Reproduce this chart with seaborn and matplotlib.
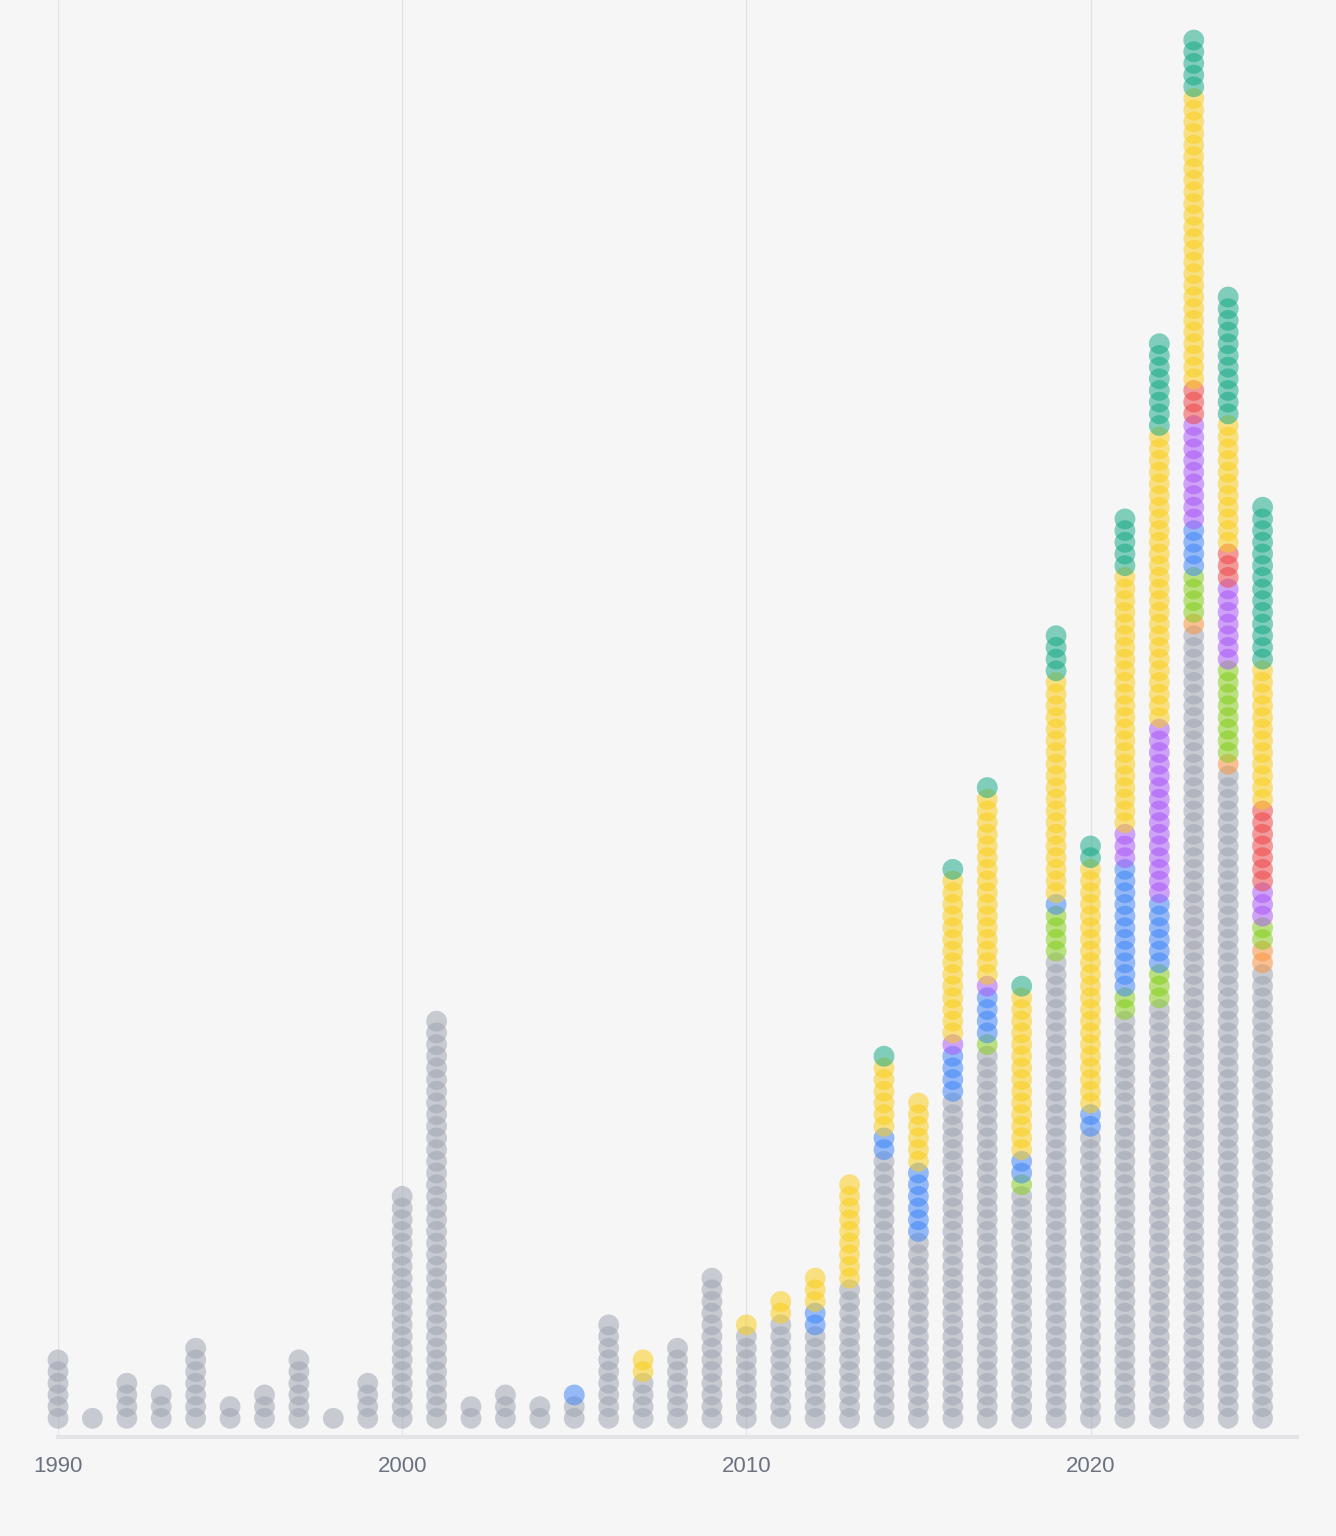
import numpy as np
import pandas as pd
import matplotlib
matplotlib.use('Agg')
import matplotlib.pyplot as plt
import seaborn as sns

# years on the x axis
years = list(range(1990, 2026))

# dots per year and category, stacked bottom -> top
gray = [6, 1, 4, 3, 7, 2, 3, 6, 1, 4, 20, 35, 2, 3, 2, 2, 9, 4, 7, 13,
        8, 9, 8, 12, 23, 16, 28, 32, 20, 40, 25, 35, 36, 68, 56, 39]
orange = [0]*33 + [1, 1, 2]
green = [0]*27 + [1, 1, 4, 0, 2, 3, 4, 8, 2]
blue = [0]*15 + [1] + [0]*6 + [2, 0, 2, 6, 4, 4, 2, 1, 2, 11, 6, 4, 0, 0]
purple = [0]*26 + [1, 1, 0, 0, 0, 3, 15, 9, 7, 3]
red = [0]*33 + [3, 3, 7]
yellow = [0]*17 + [2, 0, 0, 1, 2, 3, 9, 6, 6, 14, 16, 14, 19, 21, 22, 25, 25, 11, 12]
teal = [0]*24 + [1, 0, 1, 1, 1, 4, 2, 5, 8, 5, 11, 14]

series = {'gray': gray, 'orange': orange, 'green': green, 'blue': blue,
          'purple': purple, 'red': red, 'yellow': yellow, 'teal': teal}
stack_order = ['gray', 'orange', 'green', 'blue', 'purple', 'red', 'yellow', 'teal']
palette = {'gray': '#9ca3af', 'orange': '#fb923c', 'green': '#84cc16', 'blue': '#3b82f6',
           'purple': '#a855f7', 'red': '#ef4444', 'yellow': '#facc15', 'teal': '#12a882'}

# expand the counts into one row per dot
rows = []
for j, yr in enumerate(years):
    level = 0
    for cat in stack_order:
        for k in range(series[cat][j]):
            rows.append((yr, level, cat))
            level += 1
df = pd.DataFrame(rows, columns=['year', 'level', 'category'])

sns.set_style('white')
plt.rcParams['font.family'] = ['Liberation Sans', 'DejaVu Sans']

bg = '#f6f6f7'
fig = plt.figure(figsize=(13.36, 15.36), dpi=100, facecolor=bg)
ax = fig.add_axes([58/1336, 99/1536, 1239/1336, 1437/1536])
ax.set_facecolor(bg)

sns.scatterplot(data=df, x='year', y='level', hue='category', hue_order=stack_order,
                palette=palette, s=225, alpha=0.52, linewidth=0, legend=False,
                ax=ax, clip_on=False, zorder=3)

ax.set_xlim(1990, 2026)
ax.set_ylim(-1.6, 121.43)
ax.set_xticks([1990, 2000, 2010, 2020])
ax.set_yticks([])
ax.set_xlabel('')
ax.set_ylabel('')
ax.xaxis.grid(True, color='#e3e4e7', lw=1, zorder=0)
ax.set_axisbelow(True)
for side in ['top', 'left', 'right']:
    ax.spines[side].set_visible(False)
ax.spines['bottom'].set_color('#e2e4e8')
ax.spines['bottom'].set_linewidth(3)
ax.tick_params(axis='x', length=9, width=1, color='#d4d6da', labelsize=16,
               labelcolor='#6b7280', pad=5)

plt.savefig('out.png', dpi=100, facecolor=bg)
